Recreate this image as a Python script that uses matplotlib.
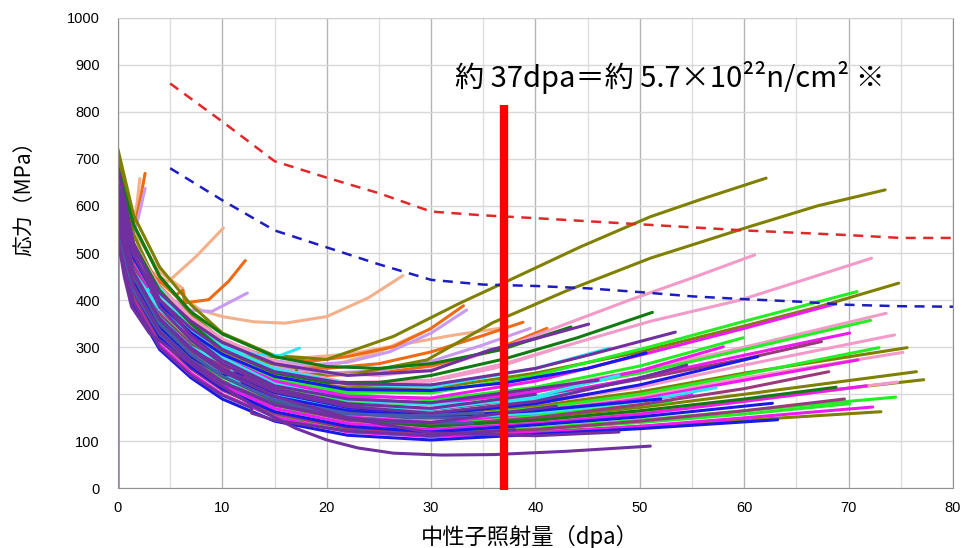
import matplotlib.pyplot as plt
from matplotlib.ticker import MultipleLocator

plt.rcParams['font.family'] = ['Liberation Sans', 'Noto Sans CJK JP', 'DejaVu Sans']

# design reference lines (dashed)
red_dpa = [5, 10, 15, 20, 25, 30, 35, 40, 50, 60, 70, 75, 80]
red_stress = [860, 779, 695, 660, 627, 588, 580, 574, 561, 548, 538, 532, 532]
blue_dpa = [5, 10, 15, 20, 25, 30, 35, 40, 45, 50, 55, 60, 65, 70, 75, 80]
blue_stress = [680, 612, 548, 512, 476, 443, 433, 430, 425, 417, 408, 402, 397, 390, 387, 386]

# marker at ~37 dpa
mark_dpa = 37
mark_top = 815

# measured curves, grouped by colour
purple_dpa = [
    [0, 1.5, 4, 7, 10, 15, 22, 30, 40, 45.2, 53.4],
    [0, 1.5, 4, 7, 10, 15, 22, 30, 35.6, 40, 45.1],
    [0, 1.5, 4, 7, 10, 15, 22, 30, 40, 50, 54.5],
    [0, 0.6, 1.3, 3, 5.2, 9, 13.6, 17, 20, 23, 26.4, 31, 36, 43, 51],
    [0, 0, 1.5, 4, 7, 10, 15, 22, 30, 40, 48],
    [0, 1.5, 4, 7, 10, 15, 22, 30, 40],
    [0, 1.5, 4, 7, 10, 15, 22, 30, 42],
    [0, 1.5, 4, 7, 10, 12.8, 12.8, 15, 22, 30, 38],
    [0, 1.5, 4, 7, 10, 15, 22, 30, 46],
]
purple_stress = [
    [610, 495, 400, 340, 295, 248, 222, 220, 255, 284, 332],
    [630, 510, 415, 355, 310, 265, 240, 250, 294, 318, 349],
    [580, 455, 360, 298, 254, 206, 174, 160, 185, 235, 262],
    [530, 450, 386, 330, 294, 231, 167, 128, 103, 86, 75, 71, 72, 79, 90],
    [0, 600, 460, 360, 295, 248, 196, 150, 118, 112, 120],
    [650, 500, 385, 315, 265, 212, 180, 170, 200],
    [560, 430, 332, 270, 225, 178, 148, 140, 175],
    [520, 395, 300, 240, 198, 171, 160, 145, 122, 112, 125],
    [680, 520, 400, 325, 272, 218, 190, 182, 230],
]

steel_dpa = [
    [0, 1.5, 4, 7, 10, 15, 22, 28, 34],
    [0, 1.5, 4, 7, 10, 15, 22, 28, 33],
    [0, 1.5, 4, 7, 10, 15, 22, 28, 35],
]
steel_stress = [
    [560, 430, 335, 272, 226, 178, 150, 140, 139],
    [590, 450, 350, 285, 238, 188, 160, 150, 150],
    [540, 420, 328, 268, 225, 180, 158, 155, 160],
]

blue_line_dpa = [
    [0, 1.5, 4, 7, 10, 15, 22, 30, 40, 50, 62.7],
    [0, 1.5, 4, 7, 10, 15, 22, 30, 40, 50, 63.2],
    [0, 1.5, 4, 7, 10, 15, 22, 30, 40, 50, 61.3],
    [0, 1.5, 4, 7, 10, 15, 22, 30, 37, 45, 50.6],
    [0, 1.5, 4, 7, 10, 11.9, 11.9, 15, 22, 30, 40, 52],
]
blue_line_stress = [
    [560, 420, 322, 258, 212, 163, 132, 120, 135, 152, 181],
    [520, 390, 295, 235, 190, 143, 113, 103, 115, 127, 146],
    [580, 455, 360, 298, 252, 204, 172, 158, 180, 220, 280],
    [620, 490, 392, 330, 285, 238, 210, 208, 224, 255, 288],
    [570, 440, 342, 280, 240, 245, 224, 195, 165, 152, 165, 190],
]

cyan_dpa = [
    [0, 1.5, 4, 7, 10, 15, 22, 30, 40, 50, 57.3],
    [0, 1.5, 4, 7, 10, 15, 22, 30, 35.6, 40, 47.1],
    [0, 1.5, 4, 7, 10.9, 10.9, 15, 22, 30, 40, 48],
    [0, 1.5, 2.8, 3.5, 7, 10, 15, 22, 30, 38, 44],
    [0, 1.5, 4, 7, 10, 13, 15.5, 17.4],
]
cyan_stress = [
    [560, 438, 345, 285, 241, 194, 162, 148, 160, 185, 214],
    [640, 510, 412, 348, 302, 254, 222, 215, 238, 255, 298],
    [590, 460, 362, 300, 258, 224, 196, 172, 168, 195, 240],
    [540, 455, 418, 440, 335, 278, 222, 188, 178, 185, 205],
    [560, 460, 380, 330, 300, 285, 282, 298],
]

maroon_dpa = [
    [0, 1.5, 4, 7, 10, 15, 22, 30, 40, 50, 60, 67.4],
    [0, 1.5, 4, 7, 10, 15, 22, 30, 40, 50, 60, 68.1],
    [0, 1.5, 4, 7, 10, 15, 22, 30, 40, 50, 60, 69.6],
    [0, 1.5, 4, 7, 10, 15, 22, 30, 38, 45],
]
maroon_stress = [
    [600, 470, 370, 305, 260, 210, 178, 167, 192, 232, 275, 312],
    [580, 440, 340, 275, 228, 178, 145, 132, 150, 178, 212, 248],
    [540, 410, 315, 254, 209, 160, 128, 116, 125, 143, 165, 190],
    [570, 445, 350, 290, 245, 198, 168, 158, 175, 200],
]

magenta_dpa = [
    [0, 1.5, 4, 7, 10, 15, 22, 30, 40, 50, 60, 68.7],
    [0, 1.5, 4, 7, 10, 15, 22, 30, 40, 50, 60, 70.1],
    [0, 1.5, 4, 7, 10, 15, 22, 30, 40, 50, 60, 70.9],
    [0, 1.5, 4, 7, 10, 15, 22, 30, 40, 50, 60, 71.7],
    [0, 1.5, 4, 7, 10, 15, 22, 30, 40, 50, 60, 72.3],
    [0, 1.5, 4, 7, 10, 15, 22, 30, 40, 50, 58],
    [0, 1.5, 4, 7, 10, 13.4, 13.4, 15, 22, 30, 40, 55],
]
magenta_stress = [
    [590, 470, 380, 320, 278, 228, 196, 192, 228, 283, 340, 392],
    [570, 455, 362, 300, 256, 208, 178, 170, 195, 235, 283, 330],
    [560, 430, 335, 272, 227, 180, 152, 140, 160, 190, 230, 273],
    [550, 420, 325, 264, 219, 170, 138, 125, 138, 158, 185, 218],
    [530, 400, 305, 245, 200, 152, 120, 110, 118, 132, 150, 173],
    [600, 475, 380, 318, 273, 224, 192, 180, 205, 250, 301],
    [600, 460, 356, 290, 250, 224, 203, 192, 162, 150, 165, 200],
]

lime_dpa = [
    [0, 1.5, 4, 7, 10, 15, 22, 30, 40, 51, 60, 70.8],
    [0, 1.5, 4, 7, 10, 15, 22, 30, 40, 50, 60, 72.1],
    [0, 1.5, 4, 7, 10, 15, 22, 30, 40, 50, 60, 72.9],
    [0, 1.5, 4, 7, 10, 15, 22, 30, 40, 50, 60, 74.5],
    [0, 1.5, 4, 7, 10, 15, 22, 30, 40, 50, 60, 70.1],
    [0, 1.5, 4, 7, 10, 15, 22, 30, 40, 50, 59.9],
    [0, 1.5, 4, 7, 10, 15, 16, 16, 22, 30, 40, 53],
]
lime_stress = [
    [600, 480, 390, 330, 285, 235, 205, 203, 240, 301, 355, 418],
    [580, 460, 370, 308, 264, 216, 185, 178, 205, 245, 295, 357],
    [550, 430, 340, 280, 236, 188, 160, 150, 170, 200, 242, 299],
    [560, 420, 320, 256, 210, 162, 130, 118, 128, 145, 165, 194],
    [520, 395, 302, 243, 199, 152, 122, 115, 125, 140, 158, 180],
    [620, 490, 392, 328, 282, 232, 200, 188, 215, 260, 320],
    [620, 470, 360, 292, 246, 196, 190, 167, 150, 140, 155, 185],
]

pink_dpa = [
    [0, 1.5, 4, 7, 10, 15, 20, 25, 30, 37, 43, 49, 55, 61],
    [0, 1.5, 4, 7, 10, 15, 22, 30, 37, 44, 51, 59.6, 66, 72.2],
    [0, 1.5, 4, 7, 10, 15, 22, 30, 40, 50, 60, 73.6],
    [0, 1.5, 4, 7, 10, 15, 22, 30, 40, 50, 60, 74.4],
    [0, 1.5, 4, 7, 10, 15, 22, 30, 40, 50, 60, 75.2],
    [0, 1.5, 4, 7, 10, 15, 22, 30, 40, 50, 60, 74.7],
    [0, 1.5, 4, 7, 10, 15, 22, 30, 36, 41.5],
]
pink_stress = [
    [650, 522, 427, 363, 318, 270, 245, 240, 252, 300, 350, 400, 447, 496],
    [620, 505, 410, 345, 300, 255, 225, 230, 265, 310, 355, 400, 445, 489],
    [600, 475, 380, 315, 270, 222, 190, 182, 210, 250, 300, 372],
    [560, 445, 355, 292, 248, 200, 170, 160, 180, 215, 262, 326],
    [540, 420, 332, 272, 228, 182, 155, 145, 165, 195, 235, 289],
    [530, 410, 320, 262, 218, 170, 140, 128, 140, 160, 185, 226],
    [600, 480, 390, 330, 285, 240, 220, 228, 255, 294],
]

olive_dpa = [
    [0, 1.5, 4, 7, 10, 15, 22, 30, 40, 50, 60, 67, 74.8],
    [0, 1.5, 4, 7, 10, 15, 22, 30, 40, 50, 60, 75.6],
    [0, 1.5, 4, 7, 10, 15, 22, 30, 40, 50, 60, 76.5],
    [0, 1.5, 4, 7, 10, 15, 22, 30, 40, 50, 60, 77.2],
    [0, 1.5, 4, 7, 10, 15, 22, 30, 40, 50, 60, 73.1],
    [0, 1.5, 4, 7, 10, 15, 20, 26.4, 32.8, 36.6, 44.3, 51, 56, 62.1],
    [0, 1.5, 4, 7, 10, 14, 17.1, 17.1, 23, 29.6, 35.9, 43, 51, 60.5, 67, 73.5],
]
olive_stress = [
    [640, 510, 410, 342, 295, 245, 215, 212, 245, 290, 345, 385, 436],
    [700, 540, 420, 345, 290, 225, 180, 157, 175, 205, 245, 299],
    [620, 470, 360, 290, 240, 185, 150, 136, 150, 172, 200, 248],
    [560, 430, 335, 272, 226, 176, 143, 130, 142, 162, 188, 231],
    [600, 440, 330, 260, 210, 158, 125, 112, 120, 132, 145, 163],
    [720, 580, 470, 390, 330, 282, 274, 323, 394, 433, 513, 577, 615, 659],
    [700, 560, 450, 370, 315, 268, 256, 241, 245, 273, 352, 420, 489, 556, 600, 634],
]

dgreen_dpa = [
    [0, 1.5, 4, 7, 10, 15, 22, 30, 40, 50, 60, 68.8],
    [0, 1.5, 4, 7, 10, 15, 20, 25, 30, 36.6, 43.4],
    [0, 1.5, 4, 7, 10, 15, 20, 25, 30, 37, 44, 51.2],
]
dgreen_stress = [
    [590, 450, 350, 285, 238, 186, 150, 132, 145, 165, 190, 215],
    [680, 560, 450, 375, 328, 280, 259, 255, 265, 294, 343],
    [640, 520, 420, 350, 295, 245, 225, 225, 240, 275, 320, 374],
]

lavender_dpa = [
    [0, 0.8, 1.5, 2.0, 2.6],
    [0, 2, 4, 6, 6.8, 9, 12.4],
    [0, 1.5, 4, 7, 10, 14, 18, 22, 26, 30, 33.4],
    [0, 1.5, 4, 7, 10, 15, 20, 25, 30, 35, 39.5],
]
lavender_stress = [
    [650, 585, 542, 580, 637],
    [600, 480, 420, 390, 379, 376, 415],
    [600, 500, 415, 350, 305, 275, 262, 268, 290, 330, 379],
    [610, 495, 405, 343, 300, 258, 245, 250, 270, 305, 340],
]

orange_dpa = [
    [0, 0.8, 1.6, 2.1, 2.6],
    [0, 1.5, 3.5, 5.5, 6.2, 6.4, 8.7, 10.6, 12.2],
    [0, 1.5, 4, 7, 10, 14, 18.4, 22, 26.4, 30, 33.1],
    [0, 1.5, 4, 7, 10, 15, 20, 25, 30, 35, 38.8],
    [0, 1.5, 4, 7, 10, 15, 20, 25, 30, 35.6, 41.1],
]
orange_stress = [
    [680, 600, 556, 610, 669],
    [620, 520, 450, 410, 421, 394, 401, 440, 484],
    [640, 520, 430, 360, 315, 282, 270, 280, 301, 340, 388],
    [600, 490, 400, 340, 295, 260, 255, 265, 290, 325, 353],
    [580, 470, 385, 330, 285, 250, 240, 245, 260, 290, 340],
]

salmon_dpa = [
    [0, 0.7, 1.4, 1.8, 2.1],
    [0, 1, 2.5, 4.8, 7.5, 10.1],
    [0, 2, 4, 6.2, 6.5, 8, 10, 13, 16, 20, 24, 27.3],
    [0, 1.5, 4, 7, 10, 14, 18, 22, 27, 32, 36.5],
    [0, 1.5, 4, 7, 10, 15, 20, 25, 29],
]
salmon_stress = [
    [690, 610, 565, 600, 658],
    [640, 540, 470, 439, 493, 553],
    [640, 530, 460, 425, 400, 378, 365, 354, 351, 365, 405, 452],
    [620, 505, 415, 352, 308, 283, 278, 285, 305, 325, 340],
    [580, 470, 385, 325, 285, 255, 258, 290, 330],
]

# drawing order: upper curves first, dense purple mass last
groups = [
    (salmon_dpa, salmon_stress, '#f4b08a'),
    (orange_dpa, orange_stress, '#ee6a14'),
    (lavender_dpa, lavender_stress, '#c99af0'),
    (olive_dpa, olive_stress, '#808000'),
    (pink_dpa, pink_stress, '#f49ac8'),
    (lime_dpa, lime_stress, '#22ee22'),
    (magenta_dpa, magenta_stress, '#f019f0'),
    (maroon_dpa, maroon_stress, '#9a3a7a'),
    (cyan_dpa, cyan_stress, '#2ee6f0'),
    (blue_line_dpa, blue_line_stress, '#1a1ae6'),
    (dgreen_dpa, dgreen_stress, '#127a12'),
    (steel_dpa, steel_stress, '#4a5aa8'),
    (purple_dpa, purple_stress, '#7030a0'),
]

fig, ax = plt.subplots(figsize=(9.63, 5.48), dpi=100)
fig.subplots_adjust(left=0.1225, right=0.9896, bottom=0.1086, top=0.968)

for dpa, stress, color in groups:
    for x, y in zip(dpa, stress):
        ax.plot(x, y, color=color, lw=2.2, solid_joinstyle='round', solid_capstyle='round')

ax.plot(red_dpa, red_stress, color='#e02828', lw=1.8, dashes=(4, 3))
ax.plot(blue_dpa, blue_stress, color='#1c1cc0', lw=1.8, dashes=(4, 3))

ax.plot([mark_dpa, mark_dpa], [-4, mark_top], color='#ff0000', lw=6,
        solid_capstyle='butt', clip_on=False, zorder=5)

ax.set_xlim(0, 80)
ax.set_ylim(0, 1000)
ax.xaxis.set_major_locator(MultipleLocator(10))
ax.xaxis.set_minor_locator(MultipleLocator(5))
ax.yaxis.set_major_locator(MultipleLocator(100))
ax.grid(which='major', axis='x', color='#b4b4b4', lw=1)
ax.grid(which='minor', axis='x', color='#dedede', lw=1)
ax.grid(which='major', axis='y', color='#d8d8d8', lw=1)
ax.set_axisbelow(True)
ax.tick_params(which='both', length=0)
ax.tick_params(axis='y', labelsize=10.5, pad=13)
ax.tick_params(axis='x', labelsize=10.5, pad=9)
for side in ['left', 'bottom', 'right']:
    ax.spines[side].set_color('#909090')
ax.spines['top'].set_color('#d0d0d0')

cjk = ['Noto Sans CJK JP', 'DejaVu Sans']
fig.text(24 / 963, 1 - 193 / 548, '応力（MPa）', rotation=90, ha='center', va='center',
         fontsize=15, family=cjk)
fig.text(530 / 963, 1 - 537 / 548, '中性子照射量（dpa）', ha='center', va='center',
         fontsize=16, family=cjk)
fig.text(455 / 963, 1 - 77 / 548, '約 37dpa＝約 5.7×10²²n/cm² ※', ha='left', va='center',
         fontsize=21, family=cjk)

plt.savefig('out.png')
